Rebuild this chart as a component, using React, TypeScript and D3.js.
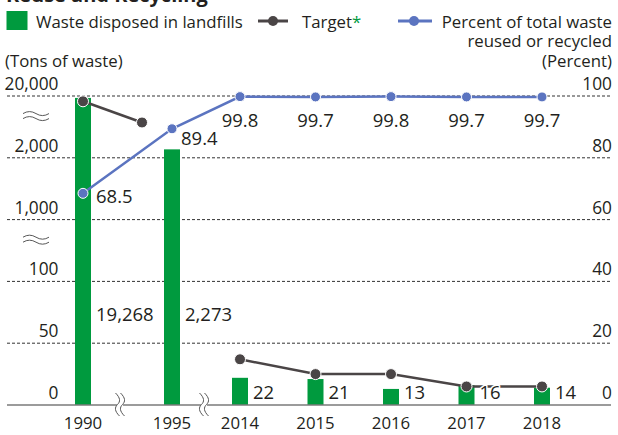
import React from "react";
import * as d3 from "d3";

// ---------- data ----------
const categories = ["1990", "1995", "2014", "2015", "2016", "2017", "2018"];
const landfillTons = [19268, 2273, 22, 21, 13, 16, 14];
const landfillLabels = ["19,268", "2,273", "22", "21", "13", "16", "14"];
const targetTons = [18000, 10000, 37, 25, 25, 15, 15];
const recycleRate = [68.5, 89.4, 99.8, 99.7, 99.8, 99.7, 99.7];
const recycleLabels = ["68.5", "89.4", "99.8", "99.7", "99.8", "99.7", "99.7"];
const leftTicks = [0, 50, 100, 1000, 2000, 20000];
const leftTickLabels = ["0", "50", "100", "1,000", "2,000", "20,000"];
const rightTicks = [0, 20, 40, 60, 80, 100];
const rightTickLabels = ["0", "20", "40", "60", "80", "100"];

// ---------- layout / style ----------
const W = 618;
const H = 435;
const FONT = "'Open Sans', 'Noto Sans', sans-serif";
const GREEN = "#009a3e";
const DARK = "#4a4546";
const BLUE = "#5b74c0";
const TEXT = "#231f20";
const LEFT_X = 7;
const RIGHT_X = 611;
const BAR_W = 16;

const yR = d3.scaleLinear().domain([0, 100]).range([405, 96]);
// broken left axis: knots aligned to right-axis gridlines
const yL = d3
  .scaleLinear()
  .domain([0, 50, 100, 1000, 2000, 2500, 20000])
  .range([0, 20, 40, 60, 80, 85, 100].map((v) => yR(v)));
const x = d3.scaleLinear().domain([0, 1, 2, 6]).range([83, 172, 240, 542]);

const TARGET_SHIFT = [0, -30, 0, 0, 0, 0, 0];
const BROKEN_LABEL_Y = 321;

function squiggle(cx: number, cy: number) {
  const p = d3.path();
  p.moveTo(cx - 13, cy);
  p.quadraticCurveTo(cx - 6.5, cy - 4, cx, cy);
  p.quadraticCurveTo(cx + 6.5, cy + 4, cx + 13, cy);
  return p.toString();
}

function axisBreak(cx: number, top: number, bottom: number) {
  const m = (top + bottom) / 2;
  const p = d3.path();
  p.moveTo(cx - 2, top);
  p.bezierCurveTo(cx + 3, top + 5, cx + 3, m - 3, cx, m);
  p.bezierCurveTo(cx - 3, m + 3, cx - 3, bottom - 5, cx + 2, bottom);
  return p.toString();
}

export default function App() {
  const baseY = yR(0);
  const targetPts: [number, number][] = targetTons.map((v, i) => [
    x(i) + TARGET_SHIFT[i],
    yL(v),
  ]);
  const ratePts: [number, number][] = recycleRate.map((v, i) => [x(i), yR(v)]);
  const line = d3.line();

  const halo = {
    paintOrder: "stroke" as const,
    stroke: "#fff",
    strokeWidth: 3,
    strokeLinejoin: "round" as const,
  };

  return (
    <svg
      width={W}
      height={H}
      style={{ position: "absolute", left: 0, top: 0, background: "#fff" }}
      fontFamily={FONT}
    >
      <rect width={W} height={H} fill="#fff" />
      {/* cut-off title */}
      <text x={6} y={1.5} fontSize={20} fontWeight="bold" fill={TEXT}>
        Reuse and Recycling
      </text>

      {/* legend */}
      <rect x={6.5} y={11} width={21} height={19} fill={GREEN} />
      <text x={36} y={27.5} fontSize={16.8} fill={TEXT}>
        Waste disposed in landfills
      </text>
      <line x1={258} x2={288} y1={21} y2={21} stroke={DARK} strokeWidth={3} />
      <circle cx={273} cy={21} r={5} fill={DARK} />
      <text x={302} y={27.5} fontSize={16.8} fill={TEXT}>
        Target<tspan fill={GREEN}>*</tspan>
      </text>
      <line x1={398} x2={432} y1={21} y2={21} stroke={BLUE} strokeWidth={3} />
      <circle cx={414} cy={21} r={5} fill={BLUE} />
      <text x={RIGHT_X + 1} y={27.5} fontSize={16.8} fill={TEXT} textAnchor="end">
        Percent of total waste
      </text>
      <text x={RIGHT_X + 1} y={47} fontSize={16.8} fill={TEXT} textAnchor="end">
        reused or recycled
      </text>
      <text x={5} y={66.5} fontSize={16.8} fill={TEXT}>
        (Tons of waste)
      </text>
      <text x={RIGHT_X + 1} y={66.5} fontSize={16.8} fill={TEXT} textAnchor="end">
        (Percent)
      </text>

      {/* gridlines */}
      {rightTicks
        .filter((t) => t > 0)
        .map((t) => (
          <line
            key={t}
            x1={LEFT_X}
            x2={RIGHT_X}
            y1={yR(t)}
            y2={yR(t)}
            stroke="#333"
            strokeWidth={1}
            strokeDasharray="3 2"
          />
        ))}

      {/* left tick labels */}
      {leftTicks.map((t, i) => (
        <text
          key={t}
          x={58.5}
          y={yL(t) - 6}
          fontSize={17.3}
          fill={TEXT}
          textAnchor="end"
        >
          {leftTickLabels[i]}
        </text>
      ))}
      {/* right tick labels */}
      {rightTicks.map((t, i) => (
        <text
          key={t}
          x={RIGHT_X + 1}
          y={yR(t) - 6}
          fontSize={17.3}
          fill={TEXT}
          textAnchor="end"
        >
          {rightTickLabels[i]}
        </text>
      ))}

      {/* left axis break squiggles */}
      {[yR(93.5), yR(53.5)].map((cy, i) => (
        <g key={i} fill="none" stroke="#444" strokeWidth={0.9}>
          <path d={squiggle(36, cy - 2.5)} />
          <path d={squiggle(36, cy + 2.5)} />
        </g>
      ))}

      {/* bars */}
      {landfillTons.map((v, i) => (
        <rect
          key={categories[i]}
          x={x(i) - BAR_W / 2}
          y={yL(v)}
          width={BAR_W}
          height={baseY - yL(v)}
          fill={GREEN}
        />
      ))}

      {/* baseline */}
      <line
        x1={LEFT_X}
        x2={RIGHT_X}
        y1={baseY}
        y2={baseY}
        stroke="#7a7a7a"
        strokeWidth={1.5}
      />

      {/* x-axis breaks */}
      {[120, 204].map((bx) => (
        <g key={bx}>
          <rect x={bx - 3} y={baseY - 3} width={6} height={6} fill="#fff" />
          <path d={axisBreak(bx - 2.5, baseY - 12, baseY + 11)} fill="none" stroke="#555" strokeWidth={1} />
          <path d={axisBreak(bx + 2.5, baseY - 12, baseY + 11)} fill="none" stroke="#555" strokeWidth={1} />
        </g>
      ))}

      {/* x labels */}
      {categories.map((c, i) => (
        <text
          key={c}
          x={x(i)}
          y={429}
          fontSize={16.8}
          fill={TEXT}
          textAnchor="middle"
        >
          {c}
        </text>
      ))}

      {/* broken-bar labels */}
      {landfillTons.map((v, i) =>
        v > 100 ? (
          <text
            key={categories[i]}
            x={x(i) + BAR_W / 2 + 5}
            y={BROKEN_LABEL_Y}
            fontSize={18.5}
            fill={TEXT}
          >
            {landfillLabels[i]}
          </text>
        ) : null
      )}

      {/* target line */}
      <path
        d={line(targetPts.slice(0, 2)) || ""}
        fill="none"
        stroke={DARK}
        strokeWidth={2.5}
      />
      <path
        d={line(targetPts.slice(2)) || ""}
        fill="none"
        stroke={DARK}
        strokeWidth={2.5}
      />

      {/* small bar labels over the target line */}
      {landfillTons.map((v, i) =>
        v > 100 ? null : (
          <text
            key={"r" + i}
            x={x(i) + BAR_W / 2 + 5}
            y={baseY - 6.5}
            fontSize={18.5}
            fill={TEXT}
            style={halo}
          >
            {landfillLabels[i]}
          </text>
        )
      )}

      {targetPts.map(([px, py], i) => (
        <circle key={i} cx={px} cy={py} r={5.5} fill={DARK} stroke="#fff" strokeWidth={1} />
      ))}

      {/* recycle rate line */}
      <path d={line(ratePts) || ""} fill="none" stroke={BLUE} strokeWidth={2.5} />
      {ratePts.map(([px, py], i) => (
        <circle key={i} cx={px} cy={py} r={5} fill={BLUE} stroke="#fff" strokeWidth={1} />
      ))}
      {ratePts.map(([px, py], i) => {
        if (i === 0)
          return (
            <text key={i} x={px + 13} y={py + 10} fontSize={18.5} fill={TEXT}>
              {recycleLabels[i]}
            </text>
          );
        if (i === 1)
          return (
            <text key={i} x={px + 9} y={py + 16} fontSize={18.5} fill={TEXT}>
              {recycleLabels[i]}
            </text>
          );
        return (
          <text key={i} x={px} y={py + 30} fontSize={18.5} fill={TEXT} textAnchor="middle">
            {recycleLabels[i]}
          </text>
        );
      })}
    </svg>
  );
}
